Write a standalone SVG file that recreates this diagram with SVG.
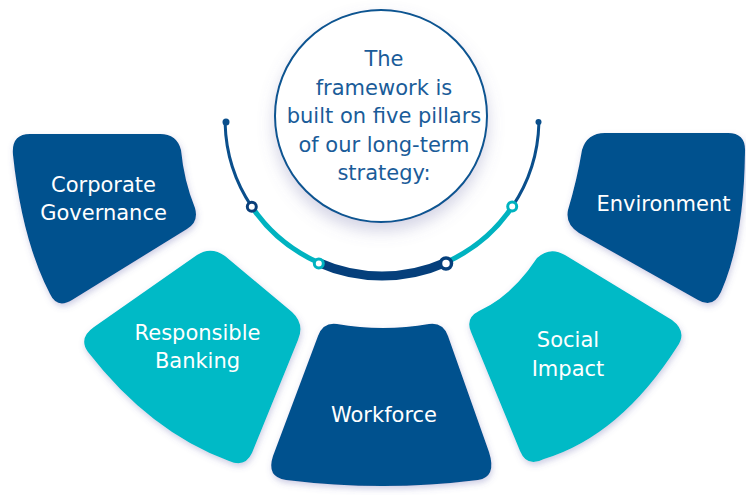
<svg xmlns="http://www.w3.org/2000/svg" width="746" height="495" viewBox="0 0 746 495">
  <defs>
    <filter id="sh" x="-20%" y="-20%" width="140%" height="140%">
      <feDropShadow dx="1" dy="3" stdDeviation="3" flood-color="#5b5ba8" flood-opacity="0.3"/>
    </filter>
    <filter id="shc" x="-30%" y="-30%" width="160%" height="170%">
      <feDropShadow dx="0" dy="8" stdDeviation="8" flood-color="#7070a8" flood-opacity="0.3"/>
    </filter>
    <style>
      .dark { fill: #02518e; }
      .teal { fill: #00bac6; }
      .lbl { font-family: "DejaVu Sans", "Liberation Sans", sans-serif; font-size: 21px; fill: #ffffff; text-anchor: middle; }
      .ctr { font-family: "DejaVu Sans", "Liberation Sans", sans-serif; font-size: 21px; fill: #1a5c99; text-anchor: middle; }
      .seg { fill: none; stroke-linecap: butt; }
      .ring { fill: #ffffff; }
    </style>
  </defs>
  <rect width="746" height="495" fill="#ffffff"/>

  <g id="connectors">
    <path class="seg" d="M225.1,123.1 A157,157 0 0 0 251.8,206.8" stroke="#0a4f8c" stroke-width="3"/>
    <path class="seg" d="M251.8,206.8 A157,157 0 0 0 318.1,262.4" stroke="#00b3c0" stroke-width="5"/>
    <path class="seg" d="M318.1,262.4 A157,157 0 0 0 445.9,262.4" stroke="#053f7b" stroke-width="9"/>
    <path class="seg" d="M445.9,262.4 A157,157 0 0 0 512.2,206.8" stroke="#00b3c0" stroke-width="5"/>
    <path class="seg" d="M512.2,206.8 A157,157 0 0 0 538.9,123.1" stroke="#0a4f8c" stroke-width="3"/>
    <circle cx="226" cy="122" r="3.5" fill="#0a4f8c"/>
    <circle cx="538.5" cy="122" r="3" fill="#0a4f8c"/>
    <circle class="ring" cx="251.8" cy="206.8" r="4.5" stroke="#0a3f7a" stroke-width="3"/>
    <circle class="ring" cx="318.8" cy="263.5" r="4.5" stroke="#00b3c0" stroke-width="3"/>
    <circle class="ring" cx="446" cy="263.5" r="5.5" stroke="#053f7b" stroke-width="3.5"/>
    <circle class="ring" cx="512.2" cy="206.5" r="4.5" stroke="#00b3c0" stroke-width="3"/>
  </g>

  <g id="center">
    <circle cx="381" cy="116" r="106" fill="#ffffff" stroke="#0c5591" stroke-width="2" filter="url(#shc)"/>
    <text class="ctr" x="384" y="66">The</text>
    <text class="ctr" x="384" y="94.5">framework is</text>
    <text class="ctr" x="384" y="123">built on five pillars</text>
    <text class="ctr" x="384" y="151.5">of our long-term</text>
    <text class="ctr" x="384" y="180">strategy:</text>
  </g>

  <g id="corporate-governance">
    <path class="dark" filter="url(#sh)" d="M30,134 L160,134 Q177,134 181,150 Q184,181 195,208 Q199,222 187,229 L72,300 Q57,309 50,294 Q22,240 13,155 Q11,134 30,134 Z"/>
    <text class="lbl" x="103.5" y="192">Corporate</text>
    <text class="lbl" x="103.5" y="220">Governance</text>
  </g>

  <g id="environment">
    <path class="dark" filter="url(#sh)" d="M605,133 L728,133 Q746,133 745,152 Q744,240 721,292 Q713,309 698,300 L579,233 Q565,224 568,210 Q577,180 582,150 Q587,133 605,133 Z"/>
    <text class="lbl" x="663.5" y="211">Environment</text>
  </g>

  <g id="responsible-banking">
    <path class="teal" filter="url(#sh)" d="M197,255 Q211,246 225,256 L292,312 Q305,324 298,340 L252,453 Q245,468 229,461 Q150,432 88,352 Q78,338 94,327 L197,255 Z"/>
    <text class="lbl" x="197.5" y="340">Responsible</text>
    <text class="lbl" x="197.5" y="368">Banking</text>
  </g>

  <g id="workforce">
    <path class="dark" filter="url(#sh)" d="M337,324 Q383,332 429,324 Q443,322 448,336 L489,452 Q497,477 478,480 Q383,492 286,480 Q266,477 273,456 L318,336 Q323,322 337,324 Z"/>
    <text class="lbl" x="384" y="422">Workforce</text>
  </g>

  <g id="social-impact">
    <path class="teal" filter="url(#sh)" d="M537,258 Q550,246 565,255 L672,320 Q688,332 677,347 Q620,436 544,459 Q527,468 520,451 L471,332 Q465,318 479,311 Q512,296 537,258 Z"/>
    <text class="lbl" x="568" y="347">Social</text>
    <text class="lbl" x="568" y="376">Impact</text>
  </g>
</svg>
